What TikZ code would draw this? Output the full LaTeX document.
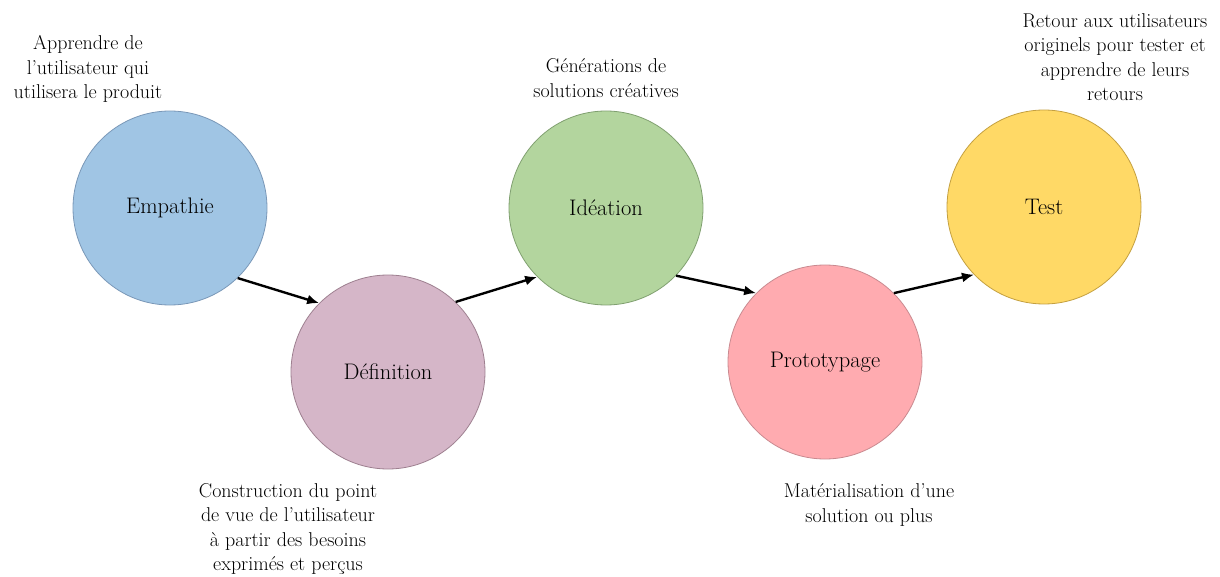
\documentclass[tikz,border=0pt]{standalone}
\usetikzlibrary{arrows.meta}
\definecolor{cblue}{HTML}{A0C5E4}
\definecolor{cbluebd}{HTML}{7A98B8}
\definecolor{cmauve}{HTML}{D5B6C8}
\definecolor{cmauvebd}{HTML}{9E8090}
\definecolor{cgreen}{HTML}{B3D59E}
\definecolor{cgreenbd}{HTML}{80A070}
\definecolor{cpink}{HTML}{FFABB0}
\definecolor{cpinkbd}{HTML}{C98A90}
\definecolor{cyellow}{HTML}{FFD966}
\definecolor{cyellowbd}{HTML}{C4A040}
\begin{document}
\begin{tikzpicture}[x=1pt,y=-1pt,
  phase/.style={circle,minimum size=194pt,inner sep=0pt,line width=0.8pt,
    font=\fontsize{22.5}{26}\selectfont},
  note/.style={align=center,inner sep=0pt,font=\fontsize{20}{24.5}\selectfont},
  flow/.style={line width=2.4pt,-{Latex[length=12pt,width=10pt]}}]
\useasboundingbox (0,0) rectangle (1220,577);
\node[phase,fill=cblue,draw=cbluebd] (emp) at (170,208) {Empathie};
\node[phase,fill=cmauve,draw=cmauvebd] (def) at (388,372) {Définition};
\node[phase,fill=cgreen,draw=cgreenbd] (ide) at (606,208) {Idéation};
\node[phase,fill=cpink,draw=cpinkbd] (pro) at (825,362) {Prototypage};
\node[phase,fill=cyellow,draw=cyellowbd] (tst) at (1044,207) {Test};
\node[note] (nemp) at (88,69) {Apprendre de\\l’utilisateur qui\\utilisera le produit};
\node[note] (ndef) at (288,529) {Construction du point\\de vue de l’utilisateur\\à partir des besoins\\exprimés et perçus};
\node[note] (nide) at (606,78) {Générations de\\solutions créatives};
\node[note] (npro) at (869,505) {Matérialisation d’une\\solution ou plus};
\node[note] (ntst) at (1115,57) {Retour aux utilisateurs\\originels pour tester et\\apprendre de leurs\\retours};
\draw[flow] (emp.-46) -- (def.135);
\draw[flow] (def.46) -- (ide.225);
\draw[flow] (ide.-44) -- (pro.135);
\draw[flow] (pro.45) -- (tst.224);
\end{tikzpicture}
\end{document}
